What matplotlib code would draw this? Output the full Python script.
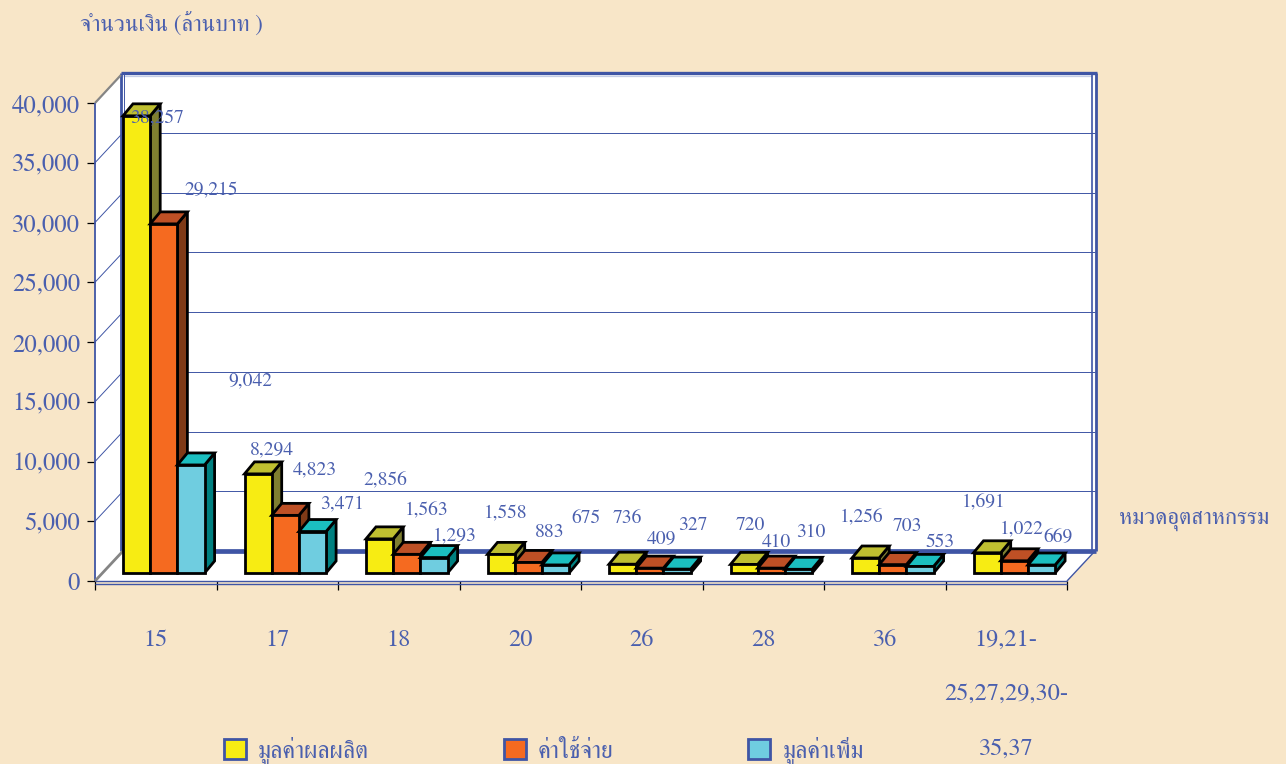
import matplotlib.pyplot as plt
from matplotlib.patches import Polygon, Patch

plt.rcParams['font.family'] = ['FreeSerif', 'Liberation Serif']

# values
groups = ['15', '17', '18', '20', '26', '28', '36', '19,21-\n25,27,29,30-\n35,37']
production = [38257, 8294, 2856, 1558, 736, 720, 1256, 1691]
expense = [29215, 4823, 1563, 883, 409, 410, 703, 1022]
added = [9042, 3471, 1293, 675, 327, 310, 553, 669]
series_names = ['มูลค่าผลผลิต', 'ค่าใช้จ่าย', 'มูลค่าเพิ่ม']
y_ticks = [0, 5000, 10000, 15000, 20000, 25000, 30000, 35000, 40000]

# where each value label sits relative to its bar top, in pixels
prod_nudge = [(20, -3), (14, 24), (6, 59), (5, 41), (5, 46), (6, 39), (-4, 41), (-3, 51)]
exp_nudge = [(47, 33), (30, 46), (20, 45), (21, 30), (12, 30), (5, 26), (15, 38), (7, 32)]
add_nudge = [(59, 84), (30, 28), (21, 22), (30, 47), (16, 44), (12, 37), (20, 24), (16, 28)]

BG = '#F8E6C8'
BLUE = '#3F55A5'
TEXT = '#4A5FAE'
FACES = [('#F7EC13', '#BFBF30', '#7F7F30'),
         ('#F56A20', '#BE5025', '#7F3A17'),
         ('#6FCDE0', '#1BBFC0', '#008080')]

fig = plt.figure(figsize=(12.86, 7.64), dpi=100, facecolor=BG)
ax = fig.add_axes([95 / 1286, (764 - 581) / 764, 972 / 1286, 478 / 764])
ax.set_xlim(0, 8)
ax.set_ylim(0, 40000)
ax.patch.set_visible(False)
for s in ax.spines.values():
    s.set_visible(False)

# pixel sizes of the fake 3d box, turned into data units
px_x = 8 / 972
px_y = 40000 / 478
wall_dx = 28 * px_x
wall_dy = 30 * px_y
bar_dx = 10 * px_x
bar_dy = 12 * px_y
bar_base = 8 * px_y
bar_w = 27.2 * px_x


def poly(pts, fc='none', ec='none', lw=0.0, z=1):
    ax.add_patch(Polygon(pts, closed=True, fc=fc, ec=ec, lw=lw, zorder=z,
                         clip_on=False, joinstyle='miter'))


def line(xs, ys, color=BLUE, lw=1.0, z=2):
    ax.plot(xs, ys, color=color, lw=lw, zorder=z, clip_on=False,
            solid_capstyle='butt')


# walls and floor
top = 40000
poly([(wall_dx, wall_dy), (8 + wall_dx, wall_dy), (8 + wall_dx, top + wall_dy), (wall_dx, top + wall_dy)], fc='white')
poly([(0, 0), (wall_dx, wall_dy), (wall_dx, top + wall_dy), (0, top)], fc='white')
poly([(0, 0), (8, 0), (8 + wall_dx, wall_dy), (wall_dx, wall_dy)], fc='white')

for v in y_ticks[1:-1]:
    line([wall_dx, 8 + wall_dx], [v + wall_dy, v + wall_dy], lw=0.7)
    line([0, wall_dx], [v, v + wall_dy], lw=0.7)

line([wall_dx - 2 * px_x, 8 + wall_dx + 2 * px_x], [top + wall_dy, top + wall_dy], lw=2.4)
line([wall_dx, 8 + wall_dx - 3 * px_x], [top + wall_dy - 2.5 * px_y] * 2, color='#C3CCE6', lw=0.9)
line([wall_dx - 2 * px_x] * 2, [wall_dy, top + wall_dy], lw=2.0)
line([wall_dx + 1 * px_x] * 2, [wall_dy, top + wall_dy], lw=0.7)
line([8 + wall_dx + 1 * px_x] * 2, [wall_dy, top + wall_dy], lw=2.0)
line([8 + wall_dx - 3 * px_x] * 2, [wall_dy, top + wall_dy], lw=1.2)
line([wall_dx, 8 + wall_dx + 1 * px_x], [wall_dy, wall_dy], lw=3.4)
line([0, 0], [0, top], lw=1.3)
line([0, wall_dx - 2 * px_x], [top, top + wall_dy - 2 * px_y], color='#858585', lw=1.6)
line([0, wall_dx], [0, wall_dy], color='#858585', lw=2.0, z=3)
line([8, 8 + wall_dx], [0, wall_dy], lw=1.0)
line([0, 8], [0, 0], lw=1.0, z=3)
line([0, 8], [-2.5 * px_y, -2.5 * px_y], lw=1.0, z=3)

# bars, left to right so each covers its neighbour's side
for i, group_vals in enumerate(zip(production, expense, added)):
    for j, v in enumerate(group_vals):
        x0 = i + wall_dx + j * bar_w
        x1 = x0 + bar_w
        y0 = bar_base
        y1 = bar_base + v
        front, cap, side = FACES[j]
        z = 5 + i * 3 + j * 0.1
        poly([(x1, y0), (x1 + bar_dx, y0 + bar_dy), (x1 + bar_dx, y1 + bar_dy), (x1, y1)], fc=side, ec='black', lw=2.0, z=z)
        poly([(x0, y1), (x1, y1), (x1 + bar_dx, y1 + bar_dy), (x0 + bar_dx, y1 + bar_dy)], fc=cap, ec='black', lw=2.0, z=z)
        poly([(x0, y0), (x1, y0), (x1, y1), (x0, y1)], fc=front, ec='black', lw=2.0, z=z)

# value labels
for j, (vals, nudge) in enumerate(zip([production, expense, added], [prod_nudge, exp_nudge, add_nudge])):
    for i, v in enumerate(vals):
        xc = i + wall_dx + (j + 0.5) * bar_w
        ax.annotate(f'{v:,}', xy=(xc, bar_base + v), xytext=nudge[i], textcoords='offset pixels',
                    ha='center', va='center', fontsize=14, color=TEXT, zorder=100, annotation_clip=False)

# axes
ax.set_yticks(y_ticks)
ax.set_yticklabels([f'{v:,}' for v in y_ticks])
ax.tick_params(axis='y', length=5.8, width=0.9, color='black', pad=5, labelsize=17.8, labelcolor=TEXT)
ax.set_xticks(range(9))
ax.set_xticklabels([])
ax.set_xticks([i + 0.5 for i in range(8)], minor=True)
ax.set_xticklabels(groups, minor=True, fontsize=17.5, color=TEXT, linespacing=3.0, va='top')
ax.tick_params(axis='x', which='major', length=6.5, width=0.9, color='black')
ax.tick_params(axis='x', which='minor', length=0, pad=35)

fig.text(80 / 1286, 1 - 24 / 764, 'จำนวนเงิน (ล้านบาท )', fontsize=16.3, color=TEXT, ha='left', va='center')
fig.text(1119 / 1286, 1 - 520 / 764, 'หมวดอุตสาหกรรม', fontsize=16.3, color=TEXT, ha='left', va='center')

handles = [Patch(fc=FACES[k][0], ec=BLUE, lw=2.0) for k in range(3)]
fig.legend(handles, series_names, ncol=3, frameon=False, fontsize=17.3, labelcolor=TEXT,
           loc='center left', bbox_to_anchor=(224 / 1286, 1 - 751 / 764), borderpad=0, borderaxespad=0,
           handlelength=0.92, handleheight=0.92, handletextpad=0.5, columnspacing=5.6)

fig.savefig('out.png', facecolor=BG)
